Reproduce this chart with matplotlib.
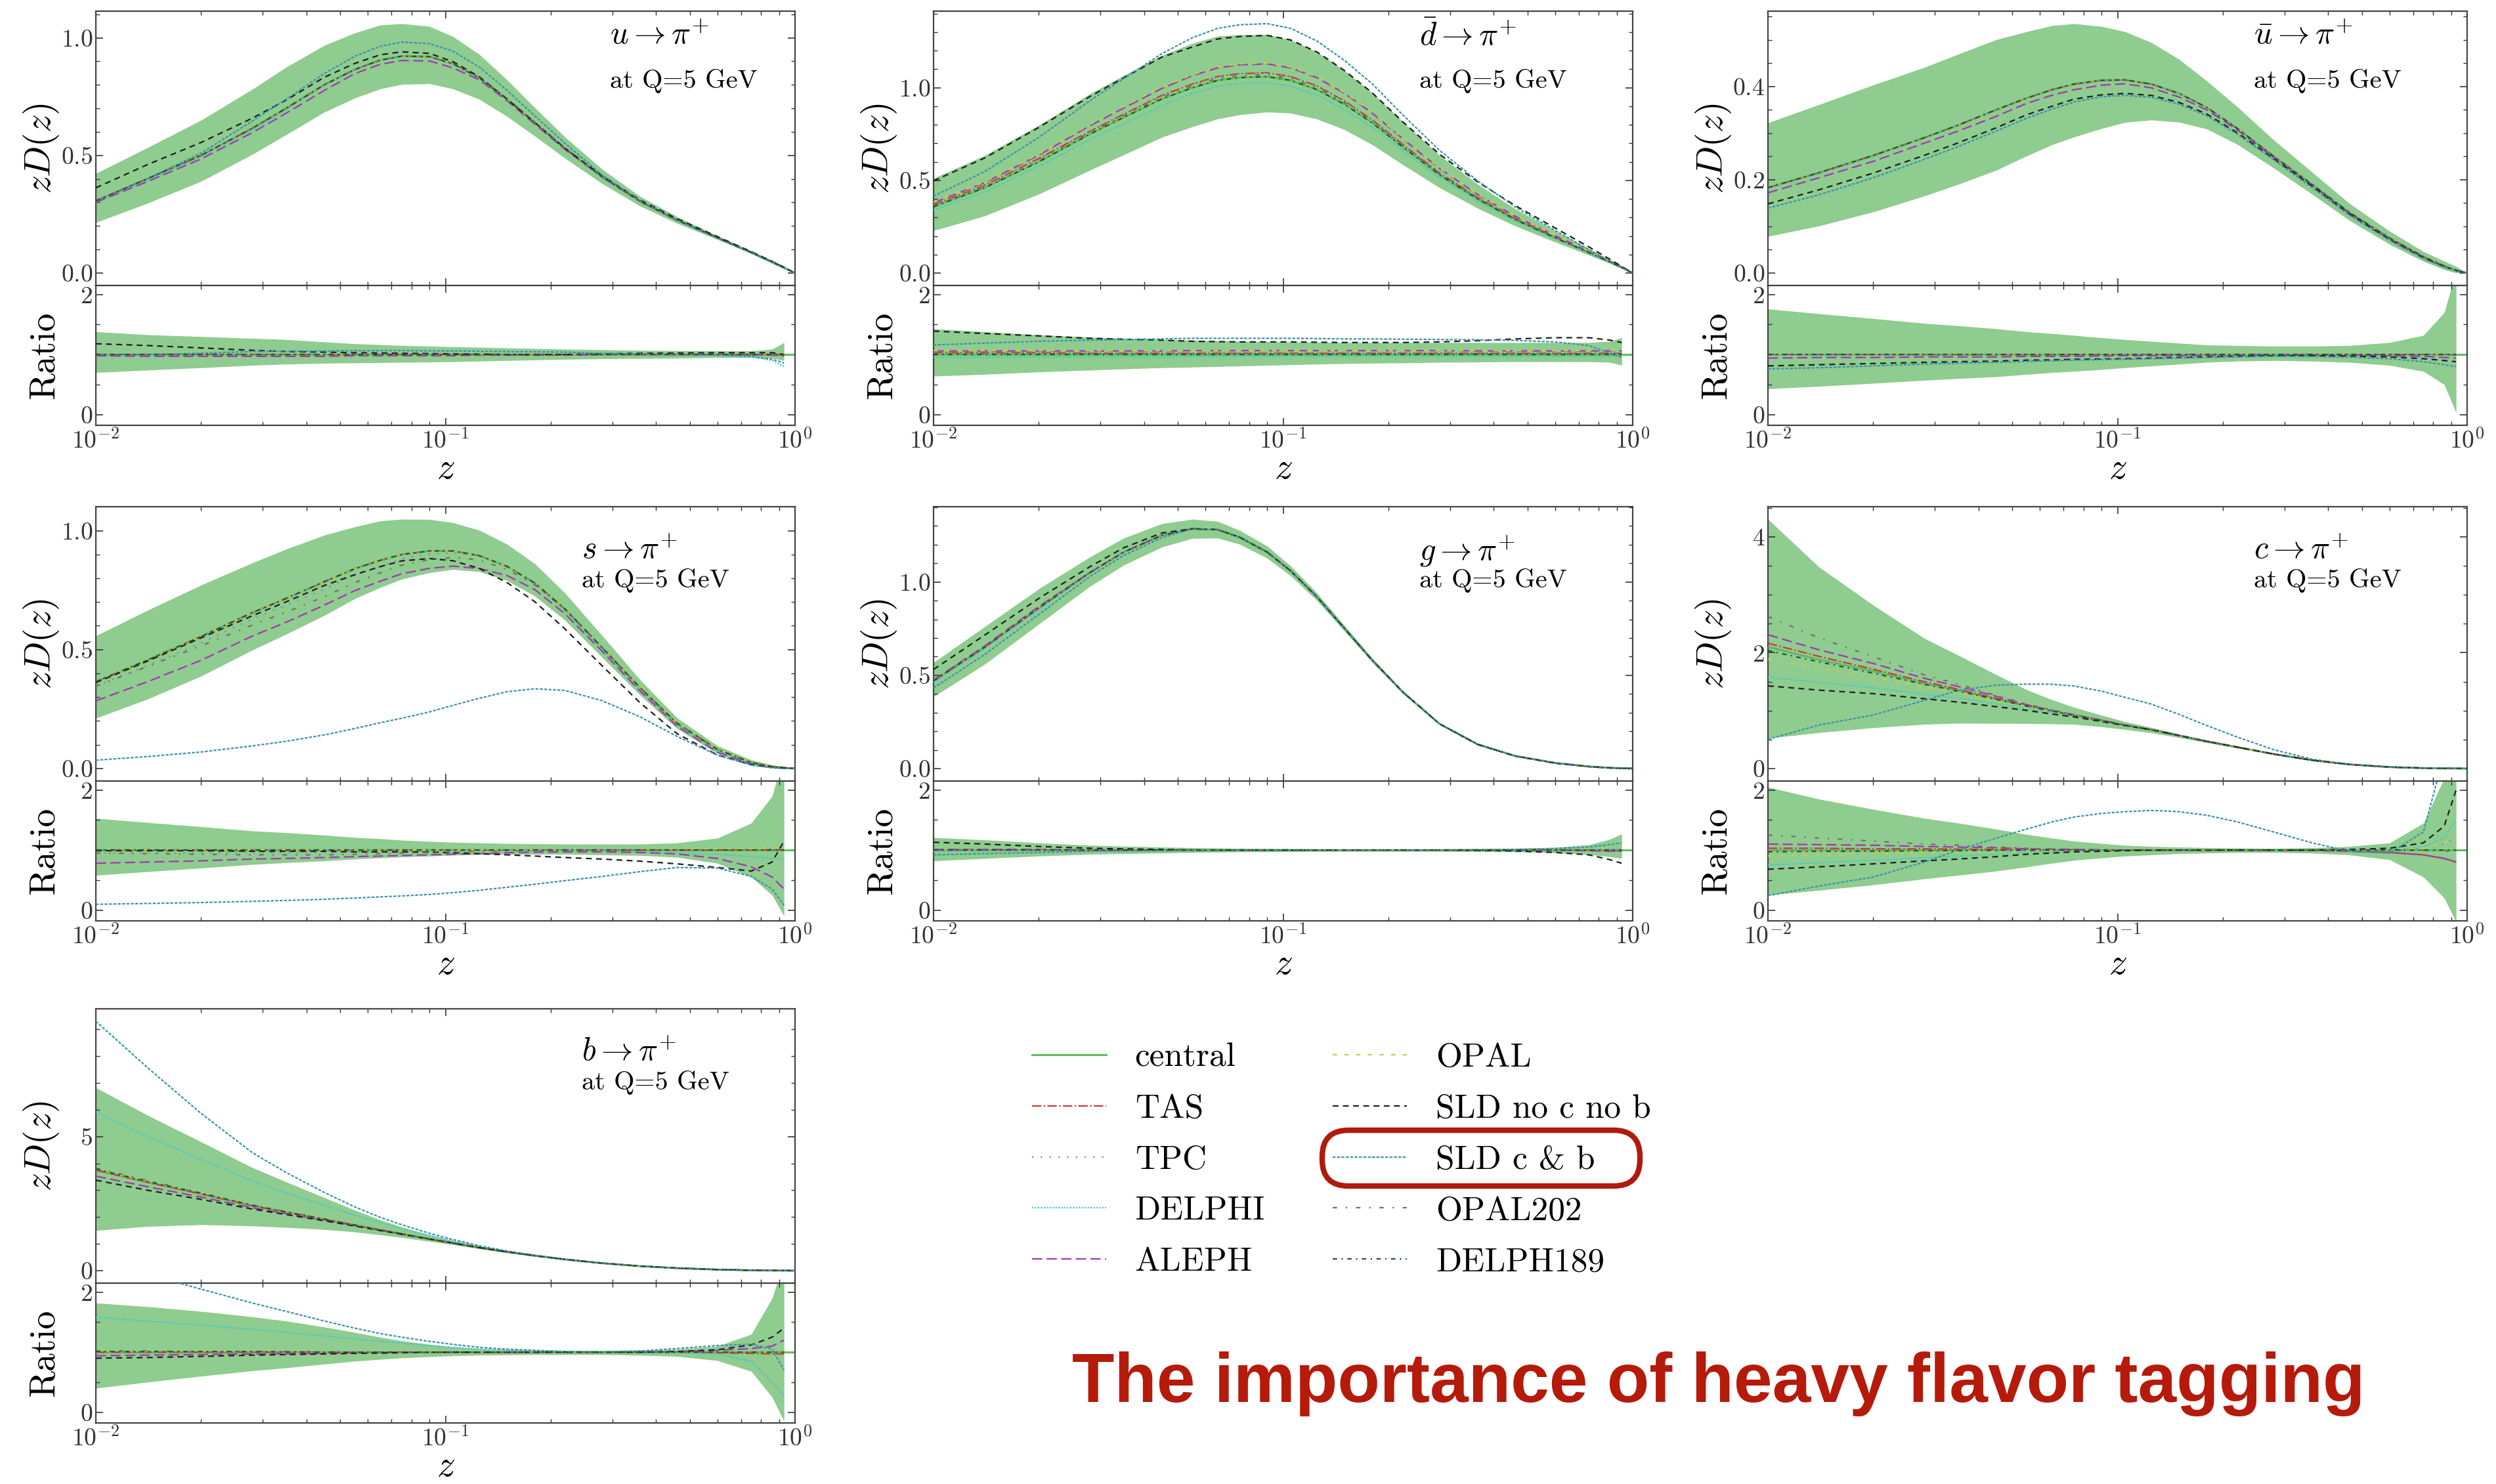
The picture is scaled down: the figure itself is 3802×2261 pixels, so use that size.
import numpy as np
import matplotlib
matplotlib.use('Agg')
import matplotlib.pyplot as plt
from matplotlib.patches import FancyBboxPatch
from matplotlib.ticker import MultipleLocator, AutoMinorLocator

plt.rcParams['font.family'] = ['cmr10', 'DejaVu Serif']
plt.rcParams['mathtext.fontset'] = 'cm'
plt.rcParams['axes.formatter.use_mathtext'] = True
plt.rcParams['axes.unicode_minus'] = False

# z grid shared by all curves (ratio curves stop at z = 0.93)
Z = [0.01, 0.014, 0.02, 0.028, 0.035, 0.045, 0.055, 0.065, 0.075, 0.09, 0.105, 0.125,
     0.15, 0.18, 0.22, 0.28, 0.36, 0.46, 0.6, 0.75, 0.86, 0.93, 1.0]

SETS = ['TAS', 'TPC', 'DELPHI', 'ALEPH', 'OPAL', 'SLD no c no b', 'SLD c & b', 'OPAL202', 'DELPH189']
SET_COLORS = ['#c83a32', '#8c7cc8', '#3cc8cc', '#a038b0', '#c8d040', '#1e1e1e', '#3a94ac', '#707064', '#1e5a1e']
SET_STYLES = ['-.', (0, (1, 5)), (0, (1, 1)), (0, (7, 3)), (0, (3, 5)), (0, (4, 3)), (0, (2, 1)),
              (0, (3, 6, 1, 6)), (0, (3, 3, 1, 3))]

BAND = '#8fcc8f'
CENTRAL = '#5fbd5f'

# ---- u -> pi+ ----
U_CENTRAL = [0.307, 0.40, 0.50, 0.615, 0.70, 0.80, 0.865, 0.905, 0.922, 0.92, 0.89, 0.83,
             0.74, 0.64, 0.53, 0.41, 0.305, 0.225, 0.15, 0.088, 0.048, 0.024, 0.0]
U_LO = [0.70, 0.74, 0.78, 0.82, 0.84, 0.855, 0.86, 0.865, 0.87, 0.875, 0.88,
        0.89, 0.90, 0.91, 0.92, 0.93, 0.935, 0.94, 0.95, 0.95, 0.94, 0.90]
U_HI = [1.38, 1.33, 1.30, 1.27, 1.25, 1.21, 1.18, 1.165, 1.15, 1.14, 1.13,
        1.12, 1.11, 1.10, 1.09, 1.08, 1.07, 1.065, 1.06, 1.06, 1.09, 1.20]
U_RATIOS = [
    [1.00, 1.00, 1.00, 1.00, 1.00, 1.00, 1.00, 1.00, 1.00, 1.00, 1.00,
     1.00, 1.00, 1.00, 1.00, 1.00, 1.00, 1.00, 1.00, 1.00, 1.00, 0.99],
    [0.99, 0.99, 0.99, 0.99, 1.00, 1.00, 1.00, 1.00, 1.00, 1.00, 1.00,
     1.00, 1.00, 1.00, 1.00, 1.00, 1.00, 1.00, 1.00, 1.00, 1.00, 1.00],
    [0.98, 0.98, 0.99, 0.99, 0.99, 1.00, 1.00, 1.00, 1.00, 1.00, 1.00,
     1.00, 1.00, 1.00, 1.00, 1.00, 1.00, 1.00, 0.99, 0.96, 0.90, 0.80],
    [0.98, 0.97, 0.97, 0.97, 0.97, 0.97, 0.98, 0.98, 0.98, 0.98, 0.98,
     0.99, 0.99, 0.99, 0.99, 1.00, 1.00, 1.00, 1.00, 1.00, 0.99, 0.98],
    [1.00, 1.00, 1.00, 1.00, 1.00, 1.00, 1.00, 1.00, 1.00, 1.00, 1.00,
     1.00, 1.00, 1.00, 1.00, 1.00, 1.00, 1.00, 1.00, 1.00, 1.00, 1.00],
    [1.18, 1.15, 1.11, 1.07, 1.05, 1.04, 1.03, 1.025, 1.02, 1.015, 1.01,
     1.005, 1.00, 1.00, 1.00, 1.01, 1.02, 1.025, 1.03, 1.03, 1.03, 1.00],
    [1.00, 1.00, 1.02, 1.05, 1.055, 1.06, 1.065, 1.065, 1.065, 1.06, 1.06,
     1.055, 1.05, 1.045, 1.04, 1.02, 1.01, 1.00, 0.99, 0.97, 0.92, 0.86],
    [1.00, 1.00, 1.00, 1.00, 1.00, 1.00, 1.00, 1.00, 1.00, 1.00, 1.00,
     1.00, 1.00, 1.00, 1.00, 1.00, 1.00, 1.00, 1.00, 1.00, 1.00, 1.00],
    [1.00, 1.00, 1.00, 1.00, 1.00, 1.00, 1.00, 1.00, 1.00, 1.00, 1.00,
     1.00, 1.00, 1.00, 1.00, 1.00, 1.00, 1.00, 1.00, 1.00, 1.00, 1.00],
]

# ---- dbar -> pi+ ----
DB_CENTRAL = [0.358, 0.46, 0.60, 0.75, 0.84, 0.94, 1.00, 1.04, 1.055, 1.06, 1.04, 0.99,
              0.91, 0.81, 0.68, 0.53, 0.40, 0.29, 0.19, 0.11, 0.06, 0.03, 0.0]
DB_LO = [0.64, 0.67, 0.71, 0.74, 0.76, 0.78, 0.79, 0.80, 0.81, 0.82, 0.83,
         0.84, 0.85, 0.855, 0.86, 0.87, 0.875, 0.88, 0.88, 0.88, 0.87, 0.82]
DB_HI = [1.43, 1.38, 1.33, 1.29, 1.27, 1.25, 1.24, 1.23, 1.22, 1.215, 1.21,
         1.205, 1.20, 1.20, 1.20, 1.20, 1.20, 1.20, 1.20, 1.20, 1.22, 1.28]
DB_RATIOS = [
    [1.03, 1.03, 1.03, 1.02, 1.02, 1.02, 1.02, 1.02, 1.02, 1.02, 1.02,
     1.02, 1.02, 1.02, 1.02, 1.02, 1.02, 1.02, 1.02, 1.02, 1.02, 1.02],
    [1.02, 1.02, 1.02, 1.02, 1.02, 1.02, 1.02, 1.02, 1.02, 1.02, 1.02,
     1.02, 1.02, 1.02, 1.02, 1.02, 1.02, 1.02, 1.02, 1.02, 1.02, 1.02],
    [0.95, 0.95, 0.96, 0.96, 0.96, 0.96, 0.97, 0.97, 0.97, 0.97, 0.97,
     0.97, 0.97, 0.97, 0.97, 0.97, 0.97, 0.97, 0.97, 0.97, 0.97, 0.97],
    [1.06, 1.06, 1.06, 1.06, 1.06, 1.06, 1.065, 1.065, 1.065, 1.065, 1.065,
     1.065, 1.065, 1.065, 1.065, 1.065, 1.06, 1.06, 1.06, 1.06, 1.06, 1.06],
    [1.07, 1.07, 1.07, 1.07, 1.07, 1.07, 1.07, 1.07, 1.07, 1.07, 1.07,
     1.07, 1.07, 1.07, 1.07, 1.07, 1.07, 1.07, 1.07, 1.07, 1.07, 1.07],
    [1.39, 1.35, 1.31, 1.27, 1.255, 1.24, 1.22, 1.215, 1.21, 1.21, 1.21,
     1.205, 1.20, 1.20, 1.20, 1.21, 1.23, 1.26, 1.28, 1.28, 1.24, 1.20],
    [1.16, 1.19, 1.22, 1.24, 1.25, 1.26, 1.27, 1.27, 1.27, 1.27, 1.27,
     1.265, 1.26, 1.26, 1.255, 1.25, 1.245, 1.235, 1.21, 1.15, 1.02, 0.95],
    [1.01, 1.01, 1.01, 1.01, 1.01, 1.01, 1.01, 1.01, 1.01, 1.01, 1.01,
     1.01, 1.01, 1.01, 1.01, 1.01, 1.01, 1.01, 1.01, 1.01, 1.01, 1.01],
    [1.00, 1.00, 1.00, 1.00, 1.00, 1.00, 1.00, 1.00, 1.00, 1.00, 1.00,
     1.00, 1.00, 1.00, 1.00, 1.00, 1.00, 1.00, 1.00, 1.00, 1.00, 1.00],
]

# ---- ubar -> pi+ ----
UB_CENTRAL = [0.183, 0.215, 0.252, 0.29, 0.317, 0.35, 0.375, 0.393, 0.405, 0.413, 0.414, 0.405,
              0.385, 0.355, 0.31, 0.25, 0.19, 0.13, 0.075, 0.035, 0.015, 0.006, 0.0]
UB_LO = [0.43, 0.47, 0.52, 0.57, 0.60, 0.63, 0.67, 0.70, 0.72, 0.75, 0.78,
         0.81, 0.84, 0.87, 0.89, 0.90, 0.89, 0.87, 0.82, 0.72, 0.50, 0.03]
UB_HI = [1.76, 1.68, 1.60, 1.52, 1.48, 1.43, 1.38, 1.35, 1.32, 1.28, 1.25,
         1.22, 1.19, 1.16, 1.15, 1.14, 1.14, 1.15, 1.20, 1.32, 1.70, 2.40]
UB_RATIOS = [
    [1.00, 1.00, 1.00, 1.00, 1.00, 1.00, 1.00, 1.00, 1.00, 1.00, 1.00,
     1.00, 1.00, 1.00, 1.00, 1.00, 1.00, 1.00, 1.00, 1.00, 1.00, 0.99],
    [1.00, 1.00, 1.00, 1.00, 1.00, 1.00, 1.00, 1.00, 1.00, 1.00, 1.00,
     1.00, 1.00, 1.00, 1.00, 1.00, 1.00, 1.00, 1.00, 1.00, 1.00, 1.00],
    [0.99, 0.99, 0.99, 1.00, 1.00, 1.00, 1.00, 1.00, 1.00, 1.00, 1.00,
     1.00, 1.00, 1.00, 1.00, 1.00, 1.00, 1.00, 1.00, 0.99, 0.99, 0.98],
    [0.94, 0.95, 0.95, 0.96, 0.96, 0.96, 0.97, 0.97, 0.97, 0.975, 0.98,
     0.98, 0.98, 0.985, 0.99, 0.99, 0.99, 0.99, 0.98, 0.97, 0.95, 0.94],
    [1.00, 1.00, 1.00, 1.00, 1.00, 1.00, 1.00, 1.00, 1.00, 1.00, 1.00,
     1.00, 1.00, 1.00, 1.00, 1.00, 1.00, 1.00, 1.00, 1.00, 1.00, 1.00],
    [0.81, 0.83, 0.85, 0.87, 0.88, 0.89, 0.905, 0.91, 0.92, 0.925, 0.93,
     0.94, 0.95, 0.96, 0.97, 0.98, 0.98, 0.975, 0.96, 0.93, 0.90, 0.88],
    [0.76, 0.78, 0.81, 0.84, 0.855, 0.87, 0.885, 0.895, 0.905, 0.915, 0.92,
     0.93, 0.94, 0.95, 0.96, 0.97, 0.965, 0.955, 0.93, 0.88, 0.83, 0.80],
    [1.00, 1.00, 1.00, 1.00, 1.00, 1.00, 1.00, 1.00, 1.00, 1.00, 1.00,
     1.00, 1.00, 1.00, 1.00, 1.00, 1.00, 1.00, 1.00, 1.00, 1.00, 1.00],
    [1.00, 1.00, 1.00, 1.00, 1.00, 1.00, 1.00, 1.00, 1.00, 1.00, 1.00,
     1.00, 1.00, 1.00, 1.00, 1.00, 1.00, 1.00, 1.00, 1.00, 1.00, 1.00],
]

# ---- s -> pi+ ----
S_CENTRAL = [0.365, 0.455, 0.555, 0.655, 0.715, 0.785, 0.84, 0.875, 0.90, 0.915, 0.915, 0.895,
             0.85, 0.78, 0.67, 0.51, 0.34, 0.19, 0.08, 0.025, 0.008, 0.003, 0.0]
S_LO = [0.58, 0.64, 0.70, 0.76, 0.79, 0.82, 0.85, 0.87, 0.885, 0.90, 0.915,
        0.925, 0.93, 0.93, 0.93, 0.92, 0.91, 0.88, 0.78, 0.55, 0.25, -0.10]
S_HI = [1.53, 1.46, 1.39, 1.32, 1.29, 1.25, 1.21, 1.19, 1.165, 1.145, 1.13,
        1.12, 1.11, 1.105, 1.10, 1.10, 1.10, 1.12, 1.20, 1.45, 1.90, 2.60]
S_RATIOS = [
    [1.00, 1.00, 1.00, 1.00, 1.00, 1.00, 1.00, 1.00, 1.00, 1.00, 1.00,
     1.00, 1.00, 1.00, 1.00, 1.00, 1.00, 1.00, 1.00, 1.00, 1.00, 1.00],
    [0.95, 0.95, 0.95, 0.96, 0.96, 0.96, 0.97, 0.97, 0.98, 0.985, 0.99,
     1.00, 1.00, 1.00, 1.00, 1.00, 1.00, 1.00, 1.00, 1.01, 1.02, 1.03],
    [1.00, 1.00, 1.00, 1.00, 1.00, 1.00, 1.00, 1.00, 1.00, 1.00, 1.00,
     1.00, 1.00, 0.995, 0.99, 0.98, 0.965, 0.95, 0.93, 0.89, 0.86, 0.84],
    [0.78, 0.80, 0.82, 0.85, 0.86, 0.875, 0.89, 0.90, 0.91, 0.92, 0.93,
     0.94, 0.955, 0.965, 0.97, 0.97, 0.96, 0.935, 0.86, 0.72, 0.55, 0.35],
    [1.00, 1.00, 1.00, 1.00, 1.00, 1.00, 1.00, 1.00, 1.00, 1.00, 1.00,
     1.00, 1.00, 1.00, 1.00, 1.00, 1.00, 1.01, 1.015, 1.025, 1.04, 1.06],
    [0.99, 0.99, 0.99, 0.98, 0.98, 0.98, 0.97, 0.97, 0.97, 0.965, 0.955,
     0.94, 0.92, 0.90, 0.875, 0.85, 0.815, 0.77, 0.71, 0.65, 0.80, 1.15],
    [0.096, 0.11, 0.125, 0.145, 0.16, 0.18, 0.20, 0.22, 0.235, 0.26, 0.29,
     0.33, 0.38, 0.43, 0.49, 0.56, 0.64, 0.71, 0.70, 0.56, 0.35, 0.08],
    [0.95, 0.94, 0.93, 0.92, 0.92, 0.92, 0.93, 0.94, 0.95, 0.96, 0.97,
     0.98, 0.985, 0.99, 1.00, 1.00, 1.00, 1.00, 1.00, 1.00, 1.00, 1.00],
    [1.00, 1.00, 1.00, 1.00, 1.00, 1.00, 1.00, 1.00, 1.00, 1.00, 1.00,
     1.00, 1.00, 1.00, 1.00, 1.00, 1.00, 1.00, 1.00, 1.00, 1.00, 1.00],
]

# ---- g -> pi+ ----
G_CENTRAL = [0.47, 0.65, 0.86, 1.05, 1.16, 1.25, 1.285, 1.28, 1.24, 1.16, 1.06, 0.92,
             0.75, 0.58, 0.41, 0.24, 0.13, 0.068, 0.03, 0.011, 0.004, 0.002, 0.0]
G_LO = [0.82, 0.86, 0.90, 0.93, 0.94, 0.95, 0.96, 0.965, 0.97, 0.972, 0.975,
        0.978, 0.98, 0.98, 0.98, 0.98, 0.975, 0.97, 0.955, 0.925, 0.89, 0.86]
G_HI = [1.21, 1.17, 1.12, 1.08, 1.065, 1.05, 1.04, 1.035, 1.03, 1.028, 1.025,
        1.022, 1.02, 1.02, 1.02, 1.02, 1.025, 1.03, 1.045, 1.09, 1.18, 1.27]
G_RATIOS = [
    [1.00, 1.00, 1.00, 1.00, 1.00, 1.00, 1.00, 1.00, 1.00, 1.00, 1.00,
     1.00, 1.00, 1.00, 1.00, 1.00, 1.00, 1.00, 1.00, 1.00, 0.99, 0.99],
    [1.01, 1.01, 1.00, 1.00, 1.00, 1.00, 1.00, 1.00, 1.00, 1.00, 1.00,
     1.00, 1.00, 1.00, 1.00, 1.00, 1.00, 1.00, 1.00, 1.00, 1.00, 1.00],
    [0.98, 0.99, 0.99, 1.00, 1.00, 1.00, 1.00, 1.00, 1.00, 1.00, 1.00,
     1.00, 1.00, 1.00, 1.00, 1.00, 1.00, 1.00, 1.00, 1.00, 1.01, 1.02],
    [1.01, 1.01, 1.01, 1.00, 1.00, 1.00, 1.00, 1.00, 1.00, 1.00, 1.00,
     1.00, 1.00, 1.00, 1.00, 1.00, 1.00, 1.00, 1.00, 0.99, 0.98, 0.98],
    [1.00, 1.00, 1.00, 1.00, 1.00, 1.00, 1.00, 1.00, 1.00, 1.00, 1.00,
     1.00, 1.00, 1.00, 1.00, 1.00, 1.00, 1.00, 1.00, 1.00, 1.00, 1.00],
    [1.13, 1.10, 1.06, 1.03, 1.02, 1.01, 1.00, 1.00, 1.00, 1.00, 1.00,
     1.00, 1.00, 1.00, 1.00, 1.00, 0.995, 0.985, 0.96, 0.92, 0.84, 0.78],
    [0.92, 0.94, 0.96, 0.98, 0.985, 0.99, 1.00, 1.00, 1.00, 1.00, 1.00,
     1.00, 1.00, 1.00, 1.00, 1.00, 1.005, 1.01, 1.025, 1.05, 1.09, 1.12],
    [1.00, 1.00, 1.00, 1.00, 1.00, 1.00, 1.00, 1.00, 1.00, 1.00, 1.00,
     1.00, 1.00, 1.00, 1.00, 1.00, 1.00, 1.00, 1.00, 1.00, 1.00, 1.00],
    [1.00, 1.00, 1.00, 1.00, 1.00, 1.00, 1.00, 1.00, 1.00, 1.00, 1.00,
     1.00, 1.00, 1.00, 1.00, 1.00, 1.00, 1.00, 1.00, 1.00, 1.00, 1.00],
]

# ---- c -> pi+ ----
C_CENTRAL = [2.10, 1.88, 1.68, 1.47, 1.35, 1.20, 1.08, 0.99, 0.92, 0.83, 0.75, 0.67,
             0.57, 0.47, 0.37, 0.25, 0.145, 0.072, 0.026, 0.008, 0.003, 0.001, 0.0]
C_LO = [0.25, 0.33, 0.42, 0.52, 0.58, 0.65, 0.72, 0.78, 0.83, 0.87, 0.90,
        0.92, 0.94, 0.95, 0.96, 0.96, 0.95, 0.92, 0.84, 0.55, 0.20, -0.20]
C_HI = [2.05, 1.85, 1.68, 1.53, 1.45, 1.35, 1.26, 1.20, 1.15, 1.11, 1.08,
        1.06, 1.05, 1.04, 1.035, 1.03, 1.04, 1.06, 1.12, 1.45, 2.20, 2.80]
C_RATIOS = [
    [1.03, 1.03, 1.02, 1.02, 1.015, 1.01, 1.01, 1.005, 1.00, 1.00, 1.00,
     1.00, 1.00, 1.00, 1.00, 1.00, 0.995, 0.98, 0.96, 0.92, 0.86, 0.80],
    [1.00, 1.00, 1.00, 1.00, 1.00, 1.00, 1.00, 1.00, 1.00, 1.00, 1.00,
     1.00, 1.00, 1.00, 1.00, 1.00, 1.00, 1.00, 1.00, 1.03, 1.10, 1.20],
    [0.75, 0.79, 0.83, 0.87, 0.90, 0.93, 0.96, 0.97, 0.98, 0.99, 1.00,
     1.00, 1.00, 1.00, 1.00, 1.00, 1.00, 1.00, 1.00, 1.05, 1.20, 1.50],
    [1.10, 1.09, 1.08, 1.06, 1.05, 1.04, 1.02, 1.015, 1.01, 1.005, 1.00,
     1.00, 1.00, 1.00, 1.00, 1.00, 0.995, 0.98, 0.96, 0.92, 0.86, 0.80],
    [0.90, 0.92, 0.94, 0.96, 0.97, 0.98, 0.99, 0.995, 1.00, 1.00, 1.00,
     1.00, 1.00, 1.00, 1.00, 1.00, 1.00, 1.00, 1.00, 1.03, 1.12, 1.25],
    [0.68, 0.72, 0.77, 0.82, 0.85, 0.89, 0.93, 0.95, 0.97, 0.98, 0.99,
     1.00, 1.00, 1.00, 1.00, 1.00, 1.00, 1.01, 1.03, 1.12, 1.40, 2.00],
    [0.24, 0.40, 0.55, 0.80, 1.00, 1.20, 1.35, 1.47, 1.55, 1.61, 1.64,
     1.66, 1.64, 1.58, 1.47, 1.30, 1.12, 0.98, 0.95, 1.30, 2.60, 4.00],
    [1.25, 1.20, 1.15, 1.10, 1.08, 1.05, 1.03, 1.02, 1.01, 1.00, 1.00,
     1.00, 1.00, 1.00, 1.00, 1.00, 1.00, 1.00, 1.00, 1.00, 0.99, 0.97],
    [0.97, 0.98, 0.98, 0.99, 0.99, 0.995, 1.00, 1.00, 1.00, 1.00, 1.00,
     1.00, 1.00, 1.00, 1.00, 1.00, 1.00, 1.00, 1.00, 1.00, 1.00, 1.00],
]

# ---- b -> pi+ ----
B_CENTRAL = [3.75, 3.30, 2.86, 2.42, 2.18, 1.92, 1.70, 1.52, 1.37, 1.18, 1.03, 0.86,
             0.70, 0.56, 0.42, 0.28, 0.17, 0.095, 0.04, 0.015, 0.006, 0.003, 0.0]
B_LO = [0.40, 0.50, 0.60, 0.69, 0.74, 0.80, 0.85, 0.88, 0.905, 0.925, 0.94,
        0.95, 0.955, 0.96, 0.96, 0.96, 0.95, 0.93, 0.86, 0.68, 0.25, -0.15]
B_HI = [1.82, 1.76, 1.68, 1.59, 1.52, 1.42, 1.33, 1.25, 1.19, 1.13, 1.09,
        1.06, 1.045, 1.035, 1.03, 1.03, 1.035, 1.05, 1.10, 1.30, 1.90, 2.50]
B_RATIOS = [
    [1.00, 1.00, 1.00, 1.00, 1.00, 1.00, 1.00, 1.00, 1.00, 1.00, 1.00,
     1.00, 1.00, 1.00, 1.00, 1.00, 1.00, 1.00, 0.99, 0.98, 0.97, 0.97],
    [1.00, 1.00, 1.00, 1.00, 1.00, 1.00, 1.00, 1.00, 1.00, 1.00, 1.00,
     1.00, 1.00, 1.00, 1.00, 1.00, 1.00, 1.00, 1.00, 1.00, 1.00, 1.00],
    [1.58, 1.52, 1.45, 1.38, 1.33, 1.27, 1.22, 1.18, 1.15, 1.11, 1.08,
     1.05, 1.03, 1.02, 1.01, 1.00, 0.99, 0.99, 0.97, 0.85, 0.50, 0.27],
    [0.94, 0.95, 0.96, 0.97, 0.975, 0.98, 0.99, 0.995, 1.00, 1.00, 1.00,
     1.00, 1.00, 1.00, 1.00, 1.00, 1.00, 1.01, 1.03, 1.06, 1.10, 1.20],
    [1.01, 1.01, 1.01, 1.01, 1.005, 1.00, 1.00, 1.00, 1.00, 1.00, 1.00,
     1.00, 1.00, 1.00, 1.00, 1.00, 1.00, 1.00, 1.00, 1.00, 1.00, 1.00],
    [0.90, 0.91, 0.93, 0.95, 0.96, 0.97, 0.98, 0.985, 0.99, 1.00, 1.00,
     1.00, 1.00, 1.00, 1.00, 1.00, 1.00, 1.01, 1.04, 1.12, 1.25, 1.40],
    [2.48, 2.30, 2.05, 1.82, 1.68, 1.52, 1.40, 1.31, 1.25, 1.18, 1.13,
     1.08, 1.05, 1.03, 1.01, 1.00, 1.02, 1.06, 1.11, 1.13, 1.05, 0.70],
    [1.02, 1.02, 1.01, 1.01, 1.01, 1.005, 1.00, 1.00, 1.00, 1.00, 1.00,
     1.00, 1.00, 1.00, 1.00, 1.00, 1.00, 1.00, 1.00, 1.00, 1.00, 1.00],
    [1.01, 1.01, 1.01, 1.01, 1.005, 1.00, 1.00, 1.00, 1.00, 1.00, 1.00,
     1.00, 1.00, 1.00, 1.00, 1.00, 1.00, 1.00, 1.00, 1.00, 1.00, 1.00],
]

PANELS = [
    (0, 0, r'$u\to\pi^{+}$', U_CENTRAL, U_LO, U_HI, U_RATIOS, 0.5),
    (0, 1, r'$\bar{d}\to\pi^{+}$', DB_CENTRAL, DB_LO, DB_HI, DB_RATIOS, 0.5),
    (0, 2, r'$\bar{u}\to\pi^{+}$', UB_CENTRAL, UB_LO, UB_HI, UB_RATIOS, 0.2),
    (1, 0, r'$s\to\pi^{+}$', S_CENTRAL, S_LO, S_HI, S_RATIOS, 0.5),
    (1, 1, r'$g\to\pi^{+}$', G_CENTRAL, G_LO, G_HI, G_RATIOS, 0.5),
    (1, 2, r'$c\to\pi^{+}$', C_CENTRAL, C_LO, C_HI, C_RATIOS, 2),
    (2, 0, r'$b\to\pi^{+}$', B_CENTRAL, B_LO, B_HI, B_RATIOS, 5),
]

# layout in pixels
W, H = 3802, 2261
COL_X = [146, 1422, 2693]
COL_W = 1065
ROW_Y = [17, 772, 1537]
MAIN_H = 418
RATIO_H = 213

fig = plt.figure(figsize=(W / 100, H / 100), dpi=100)


def px_box(x, y, w, h):
    return [x / W, 1 - (y + h) / H, w / W, h / H]


def style_axis(ax):
    ax.set_xscale('log')
    ax.set_xlim(0.01, 1)
    ax.tick_params(which='both', direction='in', top=True, right=True, labelsize=27, colors='#333333')
    ax.tick_params(which='major', length=8, width=1.2)
    ax.tick_params(which='minor', length=4.5, width=1.0)
    for sp in ax.spines.values():
        sp.set_linewidth(1.6)
        sp.set_color('#444444')


z = np.array(Z)
zr = z[:-1]
handles = None

for row, col, label, central, lo, hi, ratios, step in PANELS:
    x0, y0 = COL_X[col], ROW_Y[row]
    ax = fig.add_axes(px_box(x0, y0, COL_W, MAIN_H))
    axr = fig.add_axes(px_box(x0, y0 + MAIN_H, COL_W, RATIO_H))

    c = np.array(central)
    lo_r = np.array(lo)
    hi_r = np.array(hi)

    ax.fill_between(z, np.append(c[:-1] * lo_r, 0.0), np.append(c[:-1] * hi_r, 0.0),
                    color=BAND, lw=0, zorder=1)
    h_central, = ax.plot(z, c, color=CENTRAL, lw=2.2, zorder=2, label='central')
    axr.fill_between(zr, lo_r, hi_r, color=BAND, lw=0, zorder=1)
    axr.axhline(1.0, color=CENTRAL, lw=2.2, zorder=2)

    hs = [h_central]
    for k, r in enumerate(ratios):
        r = np.array(r)
        h, = ax.plot(z, np.append(c[:-1] * r, 0.0), color=SET_COLORS[k], ls=SET_STYLES[k],
                     lw=1.6, zorder=3, label=SETS[k])
        axr.plot(zr, r, color=SET_COLORS[k], ls=SET_STYLES[k], lw=1.6, zorder=3)
        hs.append(h)
    if handles is None:
        handles = hs

    style_axis(ax)
    style_axis(axr)
    ax.yaxis.set_major_locator(MultipleLocator(step))
    ax.yaxis.set_minor_locator(AutoMinorLocator())
    ax.tick_params(labelbottom=False)
    axr.set_ylim(-0.18, 2.15)
    axr.yaxis.set_major_locator(MultipleLocator(2))
    axr.yaxis.set_minor_locator(AutoMinorLocator())

    ax.set_ylabel(r'$zD(z)$', fontsize=40)
    ax.yaxis.set_label_coords(-0.05, 0.5)
    axr.set_ylabel('Ratio', fontsize=40)
    axr.yaxis.set_label_coords(-0.05, 0.5)
    axr.set_xlabel(r'$z$', fontsize=40, labelpad=0)

    tx = 0.735 if (row, col) == (0, 0) else 0.695
    ty1, ty2 = (0.91, 0.745) if row == 0 else (0.84, 0.73)
    ax.text(tx, ty1, label, transform=ax.transAxes, fontsize=35, va='center', ha='left')
    ax.text(tx, ty2, 'at Q=5 GeV', transform=ax.transAxes, fontsize=29, va='center', ha='left')

# legend in the empty lower middle area
fig.legend(handles, ['central'] + SETS, ncol=2, loc='upper left',
           bbox_to_anchor=(1572 / W, 1 - 1589 / H), frameon=False, fontsize=37,
           handlelength=2.2, handletextpad=0.85, columnspacing=2.0, labelspacing=0.62,
           borderpad=0, borderaxespad=0)

# overlay in pixel coordinates for the annotation
ov = fig.add_axes([0, 0, 1, 1])
ov.set_xlim(0, W)
ov.set_ylim(H, 0)
ov.axis('off')
ov.add_patch(FancyBboxPatch((2014, 1722), 484, 85, boxstyle='round,pad=0,rounding_size=40',
                            fill=False, ec='#b01a0c', lw=6))
ov.text(2618, 2136, 'The importance of heavy flavor tagging', ha='center', va='baseline',
        fontsize=76, fontweight='bold', color='#b51a0a', family='Liberation Sans')

fig.savefig('out.png', dpi=100)
